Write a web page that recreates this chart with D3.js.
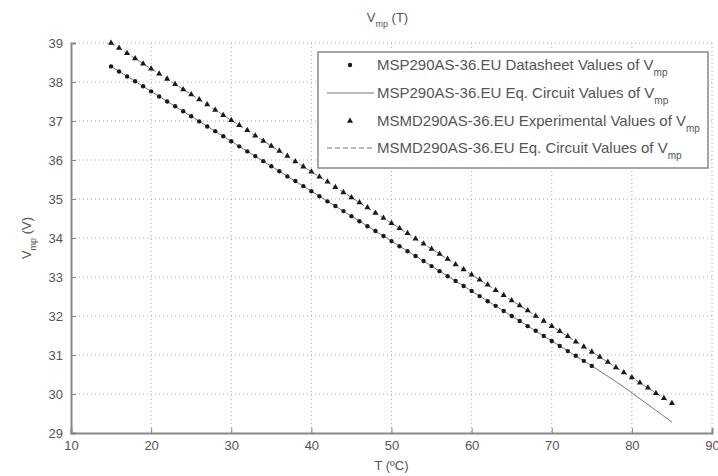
<!DOCTYPE html>
<html>
<head>
<meta charset="utf-8">
<script src="https://cdn.jsdelivr.net/npm/d3@7"></script>
<style>
  body { margin: 0; background: #fff; }
  text { font-family: "Liberation Sans", Arial, sans-serif; fill: #555; }
</style>
</head>
<body>
<div id="chart"></div>
<script>
// MSP290AS-36.EU datasheet values (dots), T = 15..75 degC
const tDatasheet = d3.range(15, 76);
const vDatasheet = [38.40, 38.27, 38.14, 38.02, 37.89, 37.76, 37.63, 37.50, 37.38, 37.25,
    37.12, 36.99, 36.86, 36.74, 36.61, 36.48, 36.35, 36.22, 36.10, 35.97,
    35.84, 35.71, 35.58, 35.46, 35.33, 35.20, 35.07, 34.94, 34.82, 34.69,
    34.56, 34.43, 34.30, 34.18, 34.05, 33.92, 33.79, 33.66, 33.54, 33.41,
    33.28, 33.15, 33.02, 32.90, 32.77, 32.64, 32.51, 32.38, 32.26, 32.13,
    32.00, 31.87, 31.74, 31.62, 31.49, 31.36, 31.23, 31.10, 30.98, 30.85, 30.72];

// MSP290AS-36.EU equivalent circuit values (solid line)
const tEqMsp = [15, 20, 25, 30, 35, 40, 45, 50, 55, 60, 65, 70, 75, 78, 80, 82, 85];
const vEqMsp = [38.40, 37.76, 37.12, 36.48, 35.84, 35.20, 34.56, 33.92, 33.28, 32.64,
    32.00, 31.36, 30.72, 30.32, 30.03, 29.73, 29.28];

// MSMD290AS-36.EU experimental values (triangles), T = 15..85 degC
const tExp = d3.range(15, 86);
const vExp = [39.00, 38.87, 38.74, 38.60, 38.47, 38.34, 38.21, 38.08, 37.94, 37.81,
    37.68, 37.55, 37.42, 37.28, 37.15, 37.02, 36.89, 36.76, 36.62, 36.49,
    36.36, 36.23, 36.10, 35.96, 35.83, 35.70, 35.57, 35.44, 35.30, 35.17,
    35.04, 34.91, 34.78, 34.64, 34.51, 34.38, 34.25, 34.12, 33.98, 33.85,
    33.72, 33.59, 33.46, 33.32, 33.19, 33.06, 32.93, 32.80, 32.66, 32.53,
    32.40, 32.27, 32.14, 32.00, 31.87, 31.74, 31.61, 31.48, 31.34, 31.21,
    31.08, 30.95, 30.82, 30.68, 30.55, 30.42, 30.29, 30.16, 30.02, 29.89, 29.76];

// MSMD290AS-36.EU equivalent circuit values (dashed line)
const tEqMsmd = [15, 20, 25, 30, 35, 40, 45, 50, 55, 60, 65, 70, 75, 80, 85];
const vEqMsmd = [39.00, 38.34, 37.68, 37.02, 36.36, 35.70, 35.04, 34.38, 33.72, 33.06,
    32.40, 31.74, 31.08, 30.42, 29.76];

const xTicks = [10, 20, 30, 40, 50, 60, 70, 80, 90];
const yTicks = [29, 30, 31, 32, 33, 34, 35, 36, 37, 38, 39];

const legendLabels = [
    'MSP290AS-36.EU Datasheet Values of V',
    'MSP290AS-36.EU Eq. Circuit Values of V',
    'MSMD290AS-36.EU Experimental Values of V',
    'MSMD290AS-36.EU Eq. Circuit Values of V'
];

const W = 718, H = 476;
const margin = { top: 43, right: 6, bottom: 43, left: 71 };
const width = W - margin.left - margin.right;
const height = H - margin.top - margin.bottom;

const svg = d3.select('#chart').append('svg')
    .attr('width', W)
    .attr('height', H);

const g = svg.append('g')
    .attr('transform', `translate(${margin.left},${margin.top})`);

const x = d3.scaleLinear().domain([10, 90]).range([0, width]);
const y = d3.scaleLinear().domain([29, 39]).range([height, 0]);

// Dotted grid
g.append('g')
    .selectAll('line')
    .data(xTicks.slice(1))
    .join('line')
    .attr('x1', d => x(d)).attr('x2', d => x(d))
    .attr('y1', 0).attr('y2', height)
    .attr('stroke', '#aaa')
    .attr('stroke-width', 1)
    .attr('stroke-dasharray', '1,3');

g.append('g')
    .selectAll('line')
    .data(yTicks.slice(1))
    .join('line')
    .attr('x1', 0).attr('x2', width)
    .attr('y1', d => y(d)).attr('y2', d => y(d))
    .attr('stroke', '#aaa')
    .attr('stroke-width', 1)
    .attr('stroke-dasharray', '1,3');

// Axes (ticks pointing inwards)
const xAxis = g.append('g')
    .attr('transform', `translate(0,${height})`)
    .call(d3.axisBottom(x).tickValues(xTicks).tickSize(-5).tickPadding(8));
const yAxis = g.append('g')
    .call(d3.axisLeft(y).tickValues(yTicks).tickSize(-5).tickPadding(8));

[xAxis, yAxis].forEach(ax => {
    ax.select('.domain').attr('stroke', '#888').attr('stroke-width', 2);
    ax.selectAll('.tick line').attr('stroke', '#888');
    ax.selectAll('.tick text')
        .style('font-family', '"Liberation Sans", Arial, sans-serif')
        .style('font-size', '13px')
        .attr('fill', '#555');
});

// Lines
const line = d3.line().x(d => x(d[0])).y(d => y(d[1]));

g.append('path')
    .datum(d3.zip(tEqMsp, vEqMsp))
    .attr('d', line)
    .attr('fill', 'none')
    .attr('stroke', '#777')
    .attr('stroke-width', 1);

g.append('path')
    .datum(d3.zip(tEqMsmd, vEqMsmd))
    .attr('d', line)
    .attr('fill', 'none')
    .attr('stroke', '#777')
    .attr('stroke-width', 1)
    .attr('stroke-dasharray', '5,3');

// Markers
const tri = d3.symbol().type(d3.symbolTriangle).size(16);

g.append('g')
    .selectAll('circle')
    .data(d3.zip(tDatasheet, vDatasheet))
    .join('circle')
    .attr('cx', d => x(d[0]))
    .attr('cy', d => y(d[1]))
    .attr('r', 2.2)
    .attr('fill', '#1a1a1a');

g.append('g')
    .selectAll('path')
    .data(d3.zip(tExp, vExp))
    .join('path')
    .attr('d', tri)
    .attr('transform', d => `translate(${x(d[0])},${y(d[1])})`)
    .attr('fill', '#1a1a1a');

// Title
const title = svg.append('text')
    .attr('x', margin.left + width / 2 - 4)
    .attr('y', 22)
    .attr('text-anchor', 'middle')
    .style('font-size', '13px');
title.append('tspan').text('V');
title.append('tspan').attr('dy', 5).style('font-size', '9px').text('mp');
title.append('tspan').attr('dy', -5).text(' (T)');

// Axis labels
svg.append('text')
    .attr('x', margin.left + width / 2)
    .attr('y', 470)
    .attr('text-anchor', 'middle')
    .style('font-size', '13px')
    .text('T (ºC)');

const ylab = svg.append('text')
    .attr('transform', `translate(31,${margin.top + height / 2}) rotate(-90)`)
    .attr('text-anchor', 'middle')
    .style('font-size', '13px');
ylab.append('tspan').text('V');
ylab.append('tspan').attr('dy', 5).style('font-size', '9px').text('mp');
ylab.append('tspan').attr('dy', -5).text(' (V)');

// Legend
const legend = svg.append('g').attr('transform', 'translate(318,52)');
legend.append('rect')
    .attr('width', 390)
    .attr('height', 116)
    .attr('fill', '#fff')
    .attr('stroke', '#888')
    .attr('stroke-width', 1.5);

const rowY = [13, 41, 69, 96];
legendLabels.forEach((label, i) => {
    const row = legend.append('g').attr('transform', `translate(0,${rowY[i]})`);
    if (i === 0) {
        row.append('circle').attr('cx', 32).attr('cy', 0).attr('r', 2.2).attr('fill', '#1a1a1a');
    } else if (i === 2) {
        row.append('path').attr('d', tri).attr('transform', 'translate(32,0)').attr('fill', '#1a1a1a');
    } else {
        row.append('line')
            .attr('x1', 9).attr('x2', 56)
            .attr('stroke', '#777')
            .attr('stroke-width', 1)
            .attr('stroke-dasharray', i === 3 ? '5,3' : null);
    }
    const t = row.append('text')
        .attr('x', 59)
        .attr('y', 5)
        .style('font-size', '15px');
    t.append('tspan').text(label);
    t.append('tspan').attr('dy', 6).style('font-size', '10px').text('mp');
});
</script>
</body>
</html>
